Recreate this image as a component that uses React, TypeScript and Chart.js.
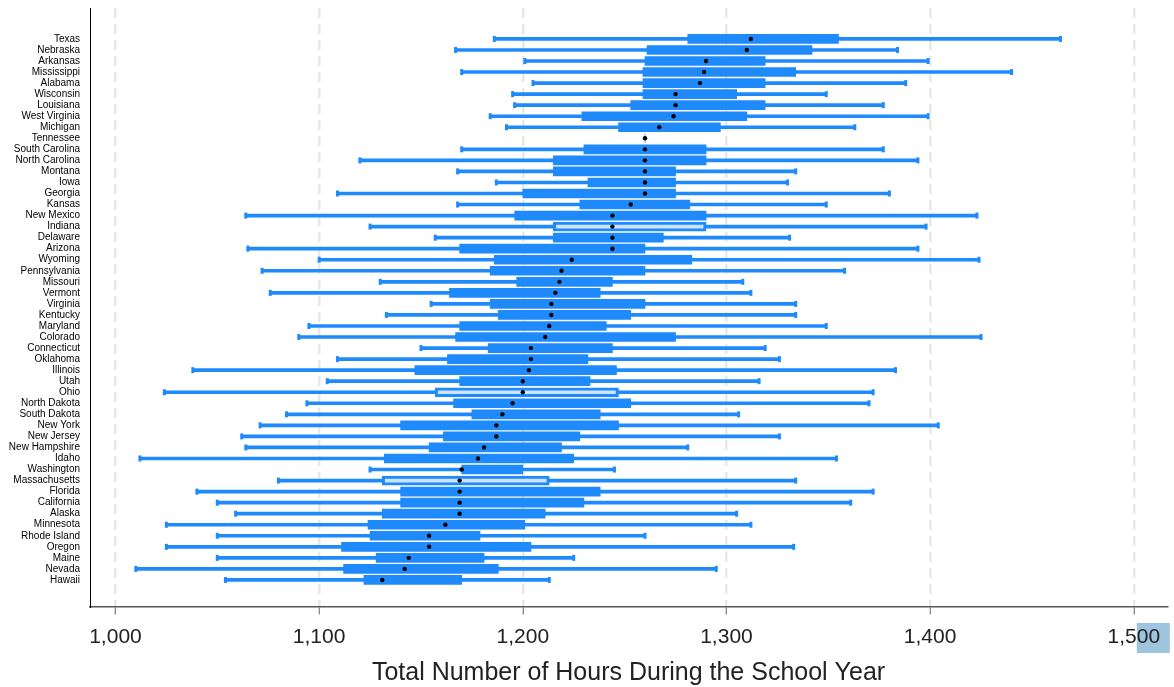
import React, { useEffect, useRef } from "react";
import { Chart, registerables } from "chart.js";

Chart.register(...registerables);

const states = [
  "Texas", "Nebraska", "Arkansas", "Mississippi", "Alabama", "Wisconsin", "Louisiana",
  "West Virginia", "Michigan", "Tennessee", "South Carolina", "North Carolina", "Montana",
  "Iowa", "Georgia", "Kansas", "New Mexico", "Indiana", "Delaware", "Arizona", "Wyoming",
  "Pennsylvania", "Missouri", "Vermont", "Virginia", "Kentucky", "Maryland", "Colorado",
  "Connecticut", "Oklahoma", "Illinois", "Utah", "Ohio", "North Dakota", "South Dakota",
  "New York", "New Jersey", "New Hampshire", "Idaho", "Washington", "Massachusetts",
  "Florida", "California", "Alaska", "Minnesota", "Rhode Island", "Oregon", "Maine",
  "Nevada", "Hawaii",
];

const minVals = [
  1186, 1167, 1201, 1170, 1205, 1195, 1196, 1184, 1192, 1260, 1170, 1120, 1168,
  1187, 1109, 1168, 1064, 1125, 1157, 1065, 1100, 1072, 1130, 1076, 1155, 1133,
  1095, 1090, 1150, 1109, 1038, 1104, 1024, 1094, 1084, 1071, 1062, 1064, 1012,
  1125, 1080, 1040, 1050, 1059, 1025, 1050, 1025, 1050, 1010, 1054,
];
const q1Vals = [
  1281, 1261, 1260, 1259, 1259, 1259, 1253, 1229, 1247, 1260, 1230, 1215, 1215,
  1232, 1200, 1228, 1196, 1215, 1215, 1169, 1186, 1184, 1197, 1164, 1184, 1188,
  1169, 1167, 1183, 1163, 1147, 1169, 1157, 1166, 1175, 1140, 1161, 1154, 1132,
  1170, 1131, 1140, 1140, 1131, 1124, 1125, 1111, 1128, 1112, 1122,
];
const medVals = [
  1312, 1310, 1290, 1289, 1287, 1275, 1275, 1274, 1267, 1260, 1260, 1260, 1260,
  1260, 1260, 1253, 1244, 1244, 1244, 1244, 1224, 1219, 1218, 1216, 1214, 1214,
  1213, 1211, 1204, 1204, 1203, 1200, 1200, 1195, 1190, 1187, 1187, 1181, 1178,
  1170, 1169, 1169, 1169, 1169, 1162, 1154, 1154, 1144, 1142, 1131,
];
const q3Vals = [
  1355, 1342, 1319, 1334, 1319, 1305, 1319, 1310, 1297, 1260, 1290, 1290, 1275,
  1275, 1275, 1282, 1290, 1290, 1269, 1260, 1283, 1260, 1244, 1238, 1260, 1253,
  1241, 1275, 1244, 1232, 1246, 1233, 1247, 1253, 1238, 1247, 1228, 1219, 1225,
  1200, 1213, 1238, 1230, 1211, 1201, 1179, 1204, 1181, 1188, 1170,
];
const maxVals = [
  1464, 1384, 1399, 1440, 1388, 1349, 1377, 1399, 1363, 1260, 1377, 1394, 1334,
  1330, 1380, 1349, 1423, 1398, 1331, 1394, 1424, 1358, 1308, 1312, 1334, 1334,
  1349, 1425, 1319, 1326, 1383, 1316, 1372, 1370, 1306, 1404, 1326, 1281, 1354,
  1245, 1334, 1372, 1361, 1305, 1312, 1260, 1333, 1225, 1295, 1213,
];

const xTicks = [1000, 1100, 1200, 1300, 1400, 1500];
const hollowStates = ["Indiana", "Ohio", "Massachusetts"];

const BLUE = "rgb(30,138,252)";
const LIGHT = "rgb(205,226,251)";
const FONT = "'Liberation Sans', Arial, sans-serif";

export default function App() {
  const ref = useRef<HTMLCanvasElement | null>(null);

  useEffect(() => {
    if (!ref.current) return;

    const whiskers = states.map((_, i) => ({ x: [minVals[i], maxVals[i]], y: i }));
    const boxes = states.map((_, i) => ({ x: [q1Vals[i], q3Vals[i]], y: i }));
    const caps: { x: number; y: number }[] = [];
    states.forEach((_, i) => {
      if (minVals[i] !== maxVals[i]) {
        caps.push({ x: minVals[i], y: i });
        caps.push({ x: maxVals[i], y: i });
      }
    });
    const medians = states.map((_, i) => ({ x: medVals[i], y: i }));

    const highlight = {
      id: "highlight",
      beforeDraw(chart: any) {
        const sx = chart.scales.x;
        const px = sx.getPixelForValue(1500);
        const b = chart.chartArea.bottom;
        const ctx = chart.ctx;
        ctx.save();
        ctx.fillStyle = "rgb(158,196,222)";
        ctx.fillRect(px + 3, b + 16, 33, 30);
        ctx.restore();
      },
    };

    const chart = new Chart(ref.current, {
      type: "bar",
      data: {
        datasets: [
          {
            type: "bar",
            indexAxis: "y",
            data: whiskers as any,
            backgroundColor: BLUE,
            barThickness: 3,
            grouped: false,
            borderWidth: 0,
            order: 4,
          } as any,
          {
            type: "scatter",
            data: caps,
            pointStyle: "line",
            rotation: 90,
            pointRadius: 3,
            pointBorderWidth: 3,
            borderColor: BLUE,
            backgroundColor: BLUE,
            order: 3,
          } as any,
          {
            type: "bar",
            indexAxis: "y",
            data: boxes as any,
            backgroundColor: states.map((s) => (hollowStates.includes(s) ? LIGHT : BLUE)),
            borderColor: BLUE,
            borderWidth: states.map((s) => (hollowStates.includes(s) ? 3 : 0)),
            borderSkipped: false,
            barThickness: 9,
            grouped: false,
            order: 2,
          } as any,
          {
            type: "scatter",
            data: medians,
            pointStyle: "circle",
            pointRadius: 2.2,
            pointBorderWidth: 0,
            backgroundColor: "#000",
            borderColor: "#000",
            order: 1,
          } as any,
        ],
      },
      options: {
        responsive: false,
        animation: false,
        devicePixelRatio: 1,
        layout: { padding: { top: 8, left: 8, right: 4, bottom: 0 } },
        plugins: {
          legend: { display: false },
          tooltip: { enabled: false },
        },
        scales: {
          x: {
            type: "linear",
            position: "bottom",
            offset: false,
            min: 987.5,
            max: 1516.3,
            afterBuildTicks: (scale: any) => {
              scale.ticks = xTicks.map((v) => ({ value: v }));
            },
            grid: {
              offset: false,
              color: "rgb(232,232,232)",
              lineWidth: 2.5,
              drawTicks: true,
              tickLength: 20,
              tickColor: "#666",
              tickWidth: 1,
              tickBorderDash: [7, 300],
            },
            border: { display: true, color: "#555", width: 1.5, dash: [10, 6] },
            ticks: {
              padding: 0,
              color: "#222",
              font: { family: FONT, size: 21, lineHeight: 1.0 },
              callback: (v: any) => Number(v).toLocaleString("en-US"),
            },
            title: {
              display: true,
              text: "Total Number of Hours During the School Year",
              color: "#222",
              font: { family: FONT, size: 25, lineHeight: 1.0 },
              padding: { top: 13, bottom: 1 },
            },
          },
          y: {
            type: "linear",
            position: "left",
            offset: false,
            reverse: true,
            min: -2.8,
            max: 51.45,
            afterBuildTicks: (scale: any) => {
              scale.ticks = states.map((_, i) => ({ value: i }));
            },
            afterFit: (scale: any) => {
              scale.width = 82;
            },
            grid: { display: false, drawTicks: true, tickLength: 10, offset: false },
            border: { display: true, color: "#000", width: 1 },
            ticks: {
              autoSkip: false,
              padding: 0,
              color: "#000",
              font: { family: FONT, size: 10 },
              callback: (v: any) => states[Number(v)] ?? "",
            },
          },
        },
      } as any,
      plugins: [highlight],
    });

    return () => chart.destroy();
  }, []);

  return (
    <div style={{ position: "absolute", left: 0, top: 0, width: 1174, height: 687, background: "#fff" }}>
      <canvas ref={ref} width={1174} height={687} style={{ display: "block" }} />
    </div>
  );
}
